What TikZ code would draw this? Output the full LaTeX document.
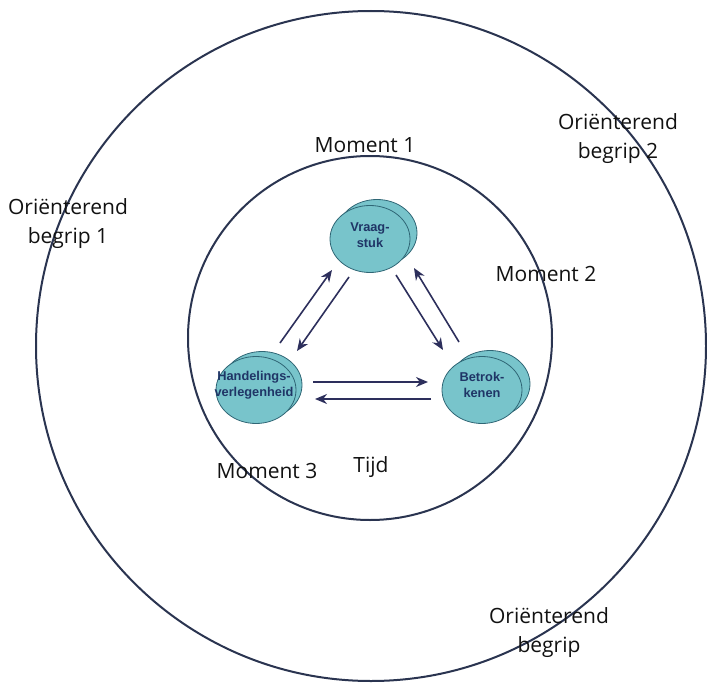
\documentclass[tikz,border=0pt]{standalone}
\usepackage{fontspec}
\setmainfont{Open Sans}
\newfontfamily\nodefont{Liberation Sans}
\usetikzlibrary{arrows.meta,shapes.geometric}
\definecolor{ringcol}{HTML}{2A3450}
\definecolor{arrcol}{HTML}{2D2F5C}
\definecolor{bubfill}{HTML}{78C4CB}
\definecolor{bubline}{HTML}{2F6675}
\definecolor{bubtext}{HTML}{1F3566}
\definecolor{labcol}{HTML}{111111}
\tikzset{
  ring/.style={draw=ringcol,line width=2pt},
  bubble/.style={ellipse,draw=bubline,line width=0.8pt,fill=bubfill,minimum width=80pt,minimum height=67pt,inner sep=0pt},
  bubtxt/.style={align=center,text=bubtext,font=\nodefont\bfseries\fontsize{12.8}{15.5}\selectfont,inner sep=0pt},
  lab/.style={align=center,text=labcol,font=\fontsize{21}{29}\selectfont,inner sep=0pt},
  arr/.style={draw=arrcol,line width=1.6pt,-{Stealth[length=12pt,width=10pt]}}
}
\begin{document}
\begin{tikzpicture}[x=1pt,y=-1pt]
\useasboundingbox (0,0) rectangle (707,685);
% rings
\node[circle,ring,minimum size=670pt,inner sep=0pt] (outer) at (371,346) {};
\node[circle,ring,minimum size=364pt,inner sep=0pt] (inner) at (370,338) {};
% bubbles (back then front)
\node[bubble] (vraagB) at (377,233) {};
\node[bubble] (vraag) at (370,239) {};
\node[bubble] (handelB) at (262,385) {};
\node[bubble] (handel) at (256,390) {};
\node[bubble] (betrokB) at (490,384) {};
\node[bubble] (betrok) at (482,390) {};
\node[bubtxt] (vraagT) at ([yshift=4pt]vraag.center) {Vraag-\\stuk};
\node[bubtxt] (handelT) at ([xshift=-2pt,yshift=5pt]handel.center) {Handelings-\\verlegenheid};
\node[bubtxt] (betrokT) at ([yshift=5pt]betrok.center) {Betrok-\\kenen};
% arrows
\draw[arr] ([shift={(24,-47)}]handel.center) -- ([shift={(-38,31)}]vraag.center);
\draw[arr] ([shift={(-21,38)}]vraag.center) -- ([shift={(41,-39)}]handel.center);
\draw[arr] ([shift={(26,36)}]vraag.center) -- ([shift={(-39,-40)}]betrok.center);
\draw[arr] ([shift={(-23,-48)}]betrok.center) -- ([shift={(44,29)}]vraag.center);
\draw[arr] ([shift={(57,-8)}]handel.center) -- ([shift={(-54,-8)}]betrok.center);
\draw[arr] ([shift={(-51,9)}]betrok.center) -- ([shift={(59,9)}]handel.center);
% labels
\node[lab] (ob1) at (68,224) {Oriënterend\\begrip 1};
\node[lab] (ob2) at (618,139) {Oriënterend\\begrip 2};
\node[lab] (ob3) at (549,633) {Oriënterend\\begrip};
\node[lab] (m1) at (365,145) {Moment 1};
\node[lab] (m2) at (546,274) {Moment 2};
\node[lab] (m3) at (267,471) {Moment 3};
\node[lab] (tijd) at (371,467) {Tijd};
\end{tikzpicture}
\end{document}
